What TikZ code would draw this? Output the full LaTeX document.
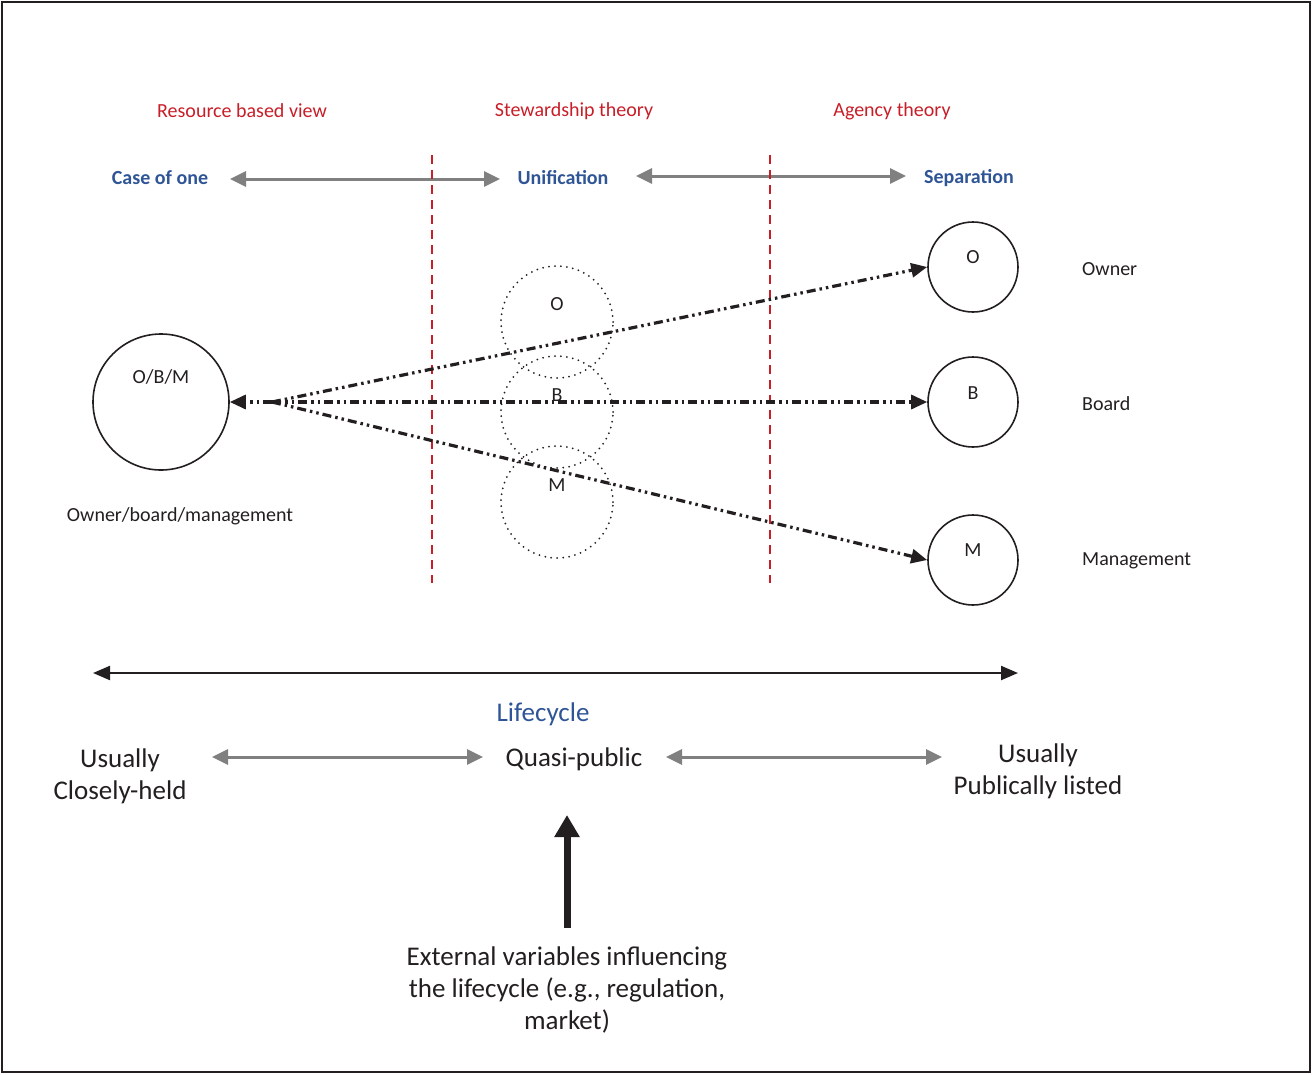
\documentclass[tikz,border=0pt]{standalone}
\usepackage{fontspec}
\setmainfont{Carlito}
\usetikzlibrary{arrows.meta}
\definecolor{theoryred}{RGB}{200,30,40}
\definecolor{stageblue}{RGB}{47,85,151}
\definecolor{linkgray}{RGB}{128,128,128}
\definecolor{inkdark}{RGB}{35,31,32}
\begin{document}
\begin{tikzpicture}[x=1pt,y=-1pt,
  small/.style={font=\fontsize{20}{24}\selectfont, text=inkdark},
  big/.style={font=\fontsize{27}{32}\selectfont, text=inkdark, align=center},
  theory/.style={font=\fontsize{20}{24}\selectfont, text=theoryred},
  stage/.style={font=\bfseries\fontsize{20}{24}\selectfont, text=stageblue},
  graylink/.style={draw=linkgray, line width=3pt, {Triangle[length=16pt,width=15pt]}-{Triangle[length=16pt,width=15pt]}},
  divider/.style={draw=theoryred, line width=1.6pt, dash pattern=on 9pt off 6pt},
  actor/.style={circle, draw=inkdark, line width=1.6pt, inner sep=0pt},
  ghost/.style={circle, draw=inkdark, line width=2pt, dash pattern=on 0pt off 6pt, line cap=round, inner sep=0pt, minimum size=112pt},
  tie/.style={draw=inkdark, line width=3.2pt, dash pattern=on 9pt off 4pt on 2.5pt off 4pt on 2.5pt off 4pt, -{Triangle[length=16pt,width=14pt]}}
]
\useasboundingbox (0,0) rectangle (1312,1074);
\draw[inkdark, line width=1.4pt] (2,2) rectangle (1310,1072);

% theory headings
\node[theory] (rbv) at (242,111) {Resource based view};
\node[theory] (stw) at (574,111) {Stewardship theory};
\node[theory] (agt) at (892,111) {Agency theory};

% stages of separation
\node[stage] (one) at (160,178) {Case of one};
\node[stage] (uni) at (563,178) {Unification};
\node[stage] (sep) at (969,178) {Separation};
\coordinate (g1a) at (230,179); \coordinate (g1b) at (500,179);
\coordinate (g2a) at (636,176); \coordinate (g2b) at (906,176);
\draw[graylink] (g1a) -- (g1b);
\draw[graylink] (g2a) -- (g2b);

% dividers
\coordinate (d1t) at (432,155); \coordinate (d1b) at (432,583);
\coordinate (d2t) at (770,155); \coordinate (d2b) at (770,583);
\draw[divider] (d1t) -- (d1b);
\draw[divider] (d2t) -- (d2b);

% combined role
\node[actor, minimum size=136pt] (obm) at (161,402) {};
\node[small] (obmlab) at (161,377) {O/B/M};
\node[small] (obmtxt) at (180,516) {Owner/board/management};

% overlapping roles
\node[ghost] (go) at (557,322) {};
\node[ghost] (gb) at (557,412) {};
\node[ghost] (gm) at (557,502) {};
\node[small] (golab) at (557,304) {O};
\node[small] (gblab) at (557,395) {B};
\node[small] (gmlab) at (557,485) {M};

% separated roles
\node[actor, minimum size=90pt] (so) at (973,267) {};
\node[actor, minimum size=90pt] (sb) at (973,402) {};
\node[actor, minimum size=90pt] (sm) at (973,560) {};
\node[small] (solab) at (973,257) {O};
\node[small] (sblab) at (973,393) {B};
\node[small] (smlab) at (973,550) {M};
\node[small, anchor=west, inner sep=0pt] (owner) at (1082,269) {Owner};
\node[small, anchor=west, inner sep=0pt] (board) at (1082,404) {Board};
\node[small, anchor=west, inner sep=0pt] (mgmt) at (1082,561) {Management};

% links from the combined role
\coordinate (apex) at (272,402);
\draw[tie] (apex) -- (obm.east);
\draw[tie] (apex) -- (so.west);
\draw[tie] (apex) -- (sb.west);
\draw[tie] (apex) -- (sm.west);

% lifecycle
\coordinate (lca) at (93,673); \coordinate (lcb) at (1018,673);
\draw[inkdark, line width=2.2pt, {Triangle[length=17pt,width=14pt]}-{Triangle[length=17pt,width=14pt]}] (lca) -- (lcb);
\node[big, text=stageblue] (lc) at (543,714) {Lifecycle};
\node[big] (closely) at (120,776) {Usually\\Closely-held};
\node[big] (quasi) at (574,759) {Quasi-public};
\node[big] (listed) at (1038,771) {Usually\\Publically listed};
\coordinate (g3a) at (212,757); \coordinate (g3b) at (483,757);
\coordinate (g4a) at (666,757); \coordinate (g4b) at (942,757);
\draw[graylink] (g3a) -- (g3b);
\draw[graylink] (g4a) -- (g4b);

% external influences
\node[big] (ext) at (567,990) {External variables influencing\\the lifecycle (e.g., regulation,\\market)};
\coordinate (extend) at (567,815);
\draw[inkdark, line width=7pt, -{Triangle[length=22pt,width=24pt]}] (567,928) -- (extend);
\end{tikzpicture}
\end{document}
